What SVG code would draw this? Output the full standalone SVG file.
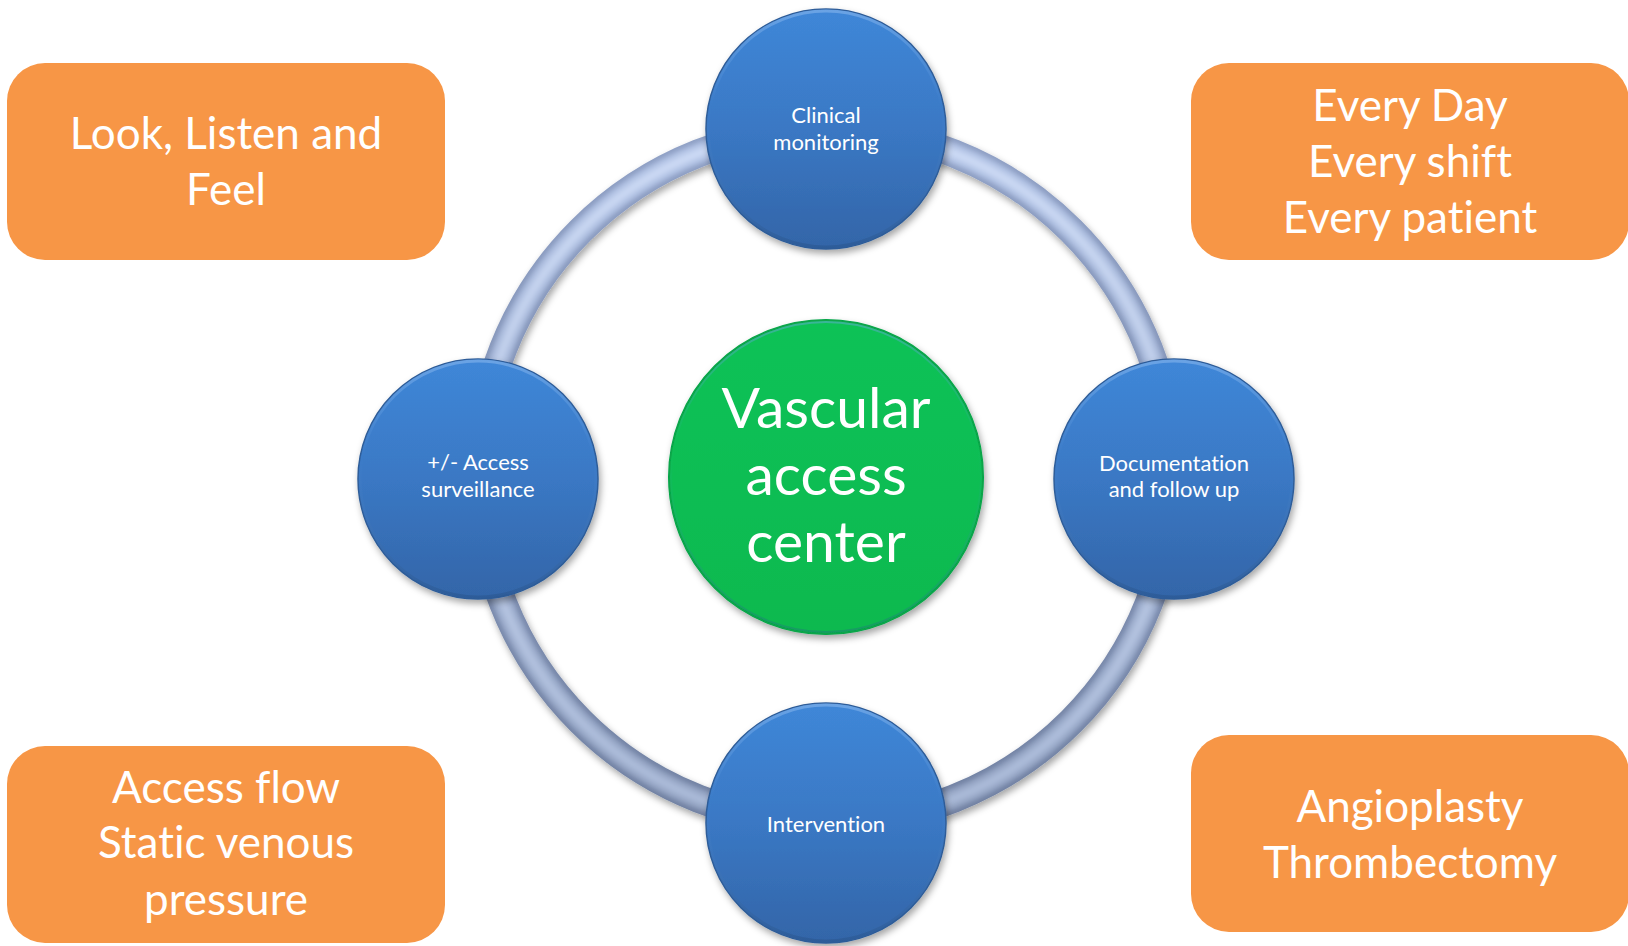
<svg xmlns="http://www.w3.org/2000/svg" width="1628" height="946" viewBox="0 0 1628 946">
  <style>
    text { font-variant-ligatures: none; }
    .box { fill: #F79646; }
    .boxText { font-family: Lato, "Noto Sans", sans-serif; font-size: 44px; fill: #FFFFFF; text-anchor: middle; }
    .nodeText { font-family: Lato, "Noto Sans", sans-serif; font-size: 22px; fill: #FFFFFF; text-anchor: middle; }
    .hubText { font-family: Lato, "Noto Sans", sans-serif; font-size: 57px; fill: #FFFFFF; text-anchor: middle; }
    .blueNode { fill: url(#blueFill); stroke: #2D5C98; stroke-width: 1.5; }
    .blueRim { fill: none; stroke: url(#rimLight); stroke-width: 3; }
  </style>
  <defs>
    <linearGradient id="blueFill" x1="0" y1="0" x2="0" y2="1">
      <stop offset="0" stop-color="#3F87D8"/>
      <stop offset="0.5" stop-color="#3A78C4"/>
      <stop offset="1" stop-color="#3365A8"/>
    </linearGradient>
    <linearGradient id="rimLight" x1="0" y1="0" x2="0" y2="1">
      <stop offset="0" stop-color="#6FA6E6" stop-opacity="0.9"/>
      <stop offset="0.4" stop-color="#5A95DA" stop-opacity="0"/>
      <stop offset="1" stop-color="#2A568F" stop-opacity="0.6"/>
    </linearGradient>
    <linearGradient id="greenFill" x1="0" y1="0" x2="0" y2="1">
      <stop offset="0" stop-color="#0CC257"/>
      <stop offset="1" stop-color="#08B94F"/>
    </linearGradient>
    <linearGradient id="ringEdge" gradientUnits="userSpaceOnUse" x1="0" y1="129" x2="0" y2="823">
      <stop offset="0" stop-color="#8E9FC4"/>
      <stop offset="1" stop-color="#6F7FA0"/>
    </linearGradient>
    <linearGradient id="ringBody" gradientUnits="userSpaceOnUse" x1="0" y1="129" x2="0" y2="823">
      <stop offset="0" stop-color="#B3C4E6"/>
      <stop offset="1" stop-color="#93A3C2"/>
    </linearGradient>
    <linearGradient id="ringShine" gradientUnits="userSpaceOnUse" x1="0" y1="129" x2="0" y2="823">
      <stop offset="0" stop-color="#CCDAF5"/>
      <stop offset="1" stop-color="#A8B8D6"/>
    </linearGradient>
    <filter id="shadow" x="-20%" y="-20%" width="140%" height="140%">
      <feDropShadow dx="2" dy="4" stdDeviation="3.5" flood-color="#000000" flood-opacity="0.35"/>
    </filter>
    <filter id="soft" x="-10%" y="-10%" width="120%" height="120%">
      <feGaussianBlur stdDeviation="2.5"/>
    </filter>
  </defs>

  <!-- ring linking the four outer stations -->
  <g id="connectors">
    <g filter="url(#shadow)">
      <circle cx="826" cy="476" r="347" fill="none" stroke="url(#ringEdge)" stroke-width="28"/>
    </g>
    <circle cx="826" cy="476" r="347" fill="none" stroke="url(#ringBody)" stroke-width="20" filter="url(#soft)"/>
    <circle cx="826" cy="476" r="347" fill="none" stroke="url(#ringShine)" stroke-width="9" filter="url(#soft)"/>
  </g>

  <!-- corner notes -->
  <g id="note-look-listen">
    <rect class="box" x="7" y="63" width="438" height="197" rx="38"/>
    <text class="boxText"><tspan x="226" y="149">Look, Listen and</tspan><tspan x="226" y="205">Feel</tspan></text>
  </g>
  <g id="note-every">
    <rect class="box" x="1191" y="63" width="438" height="197" rx="38"/>
    <text class="boxText"><tspan x="1410" y="121">Every Day</tspan><tspan x="1410" y="177">Every shift</tspan><tspan x="1410" y="233">Every patient</tspan></text>
  </g>
  <g id="note-access-flow">
    <rect class="box" x="7" y="746" width="438" height="197" rx="38"/>
    <text class="boxText"><tspan x="226" y="803">Access flow</tspan><tspan x="226" y="858">Static venous</tspan><tspan x="226" y="915">pressure</tspan></text>
  </g>
  <g id="note-angioplasty">
    <rect class="box" x="1191" y="735" width="438" height="197" rx="38"/>
    <text class="boxText"><tspan x="1410" y="822">Angioplasty</tspan><tspan x="1410" y="878">Thrombectomy</tspan></text>
  </g>

  <!-- hub -->
  <g id="hub">
    <circle cx="826" cy="477" r="157" fill="url(#greenFill)" stroke="#07A548" stroke-width="2" filter="url(#shadow)"/>
    <circle cx="826" cy="477" r="155" fill="none" stroke="url(#rimLight)" stroke-width="2" opacity="0.5"/>
    <text class="hubText"><tspan x="826" y="428">Vascular</tspan><tspan x="826" y="495">access</tspan><tspan x="826" y="562">center</tspan></text>
  </g>

  <!-- outer stations -->
  <g id="clinical-monitoring">
    <circle class="blueNode" cx="826" cy="129" r="120" filter="url(#shadow)"/>
    <circle class="blueRim" cx="826" cy="129" r="118"/>
    <text class="nodeText"><tspan x="826" y="123">Clinical</tspan><tspan x="826" y="150">monitoring</tspan></text>
  </g>
  <g id="access-surveillance">
    <circle class="blueNode" cx="478" cy="479" r="120" filter="url(#shadow)"/>
    <circle class="blueRim" cx="478" cy="479" r="118"/>
    <text class="nodeText"><tspan x="478" y="470">+/- Access</tspan><tspan x="478" y="497">surveillance</tspan></text>
  </g>
  <g id="documentation">
    <circle class="blueNode" cx="1174" cy="479" r="120" filter="url(#shadow)"/>
    <circle class="blueRim" cx="1174" cy="479" r="118"/>
    <text class="nodeText"><tspan x="1174" y="471">Documentation</tspan><tspan x="1174" y="497">and follow up</tspan></text>
  </g>
  <g id="intervention">
    <circle class="blueNode" cx="826" cy="823" r="120" filter="url(#shadow)"/>
    <circle class="blueRim" cx="826" cy="823" r="118"/>
    <text class="nodeText" x="826" y="832">Intervention</text>
  </g>
</svg>
